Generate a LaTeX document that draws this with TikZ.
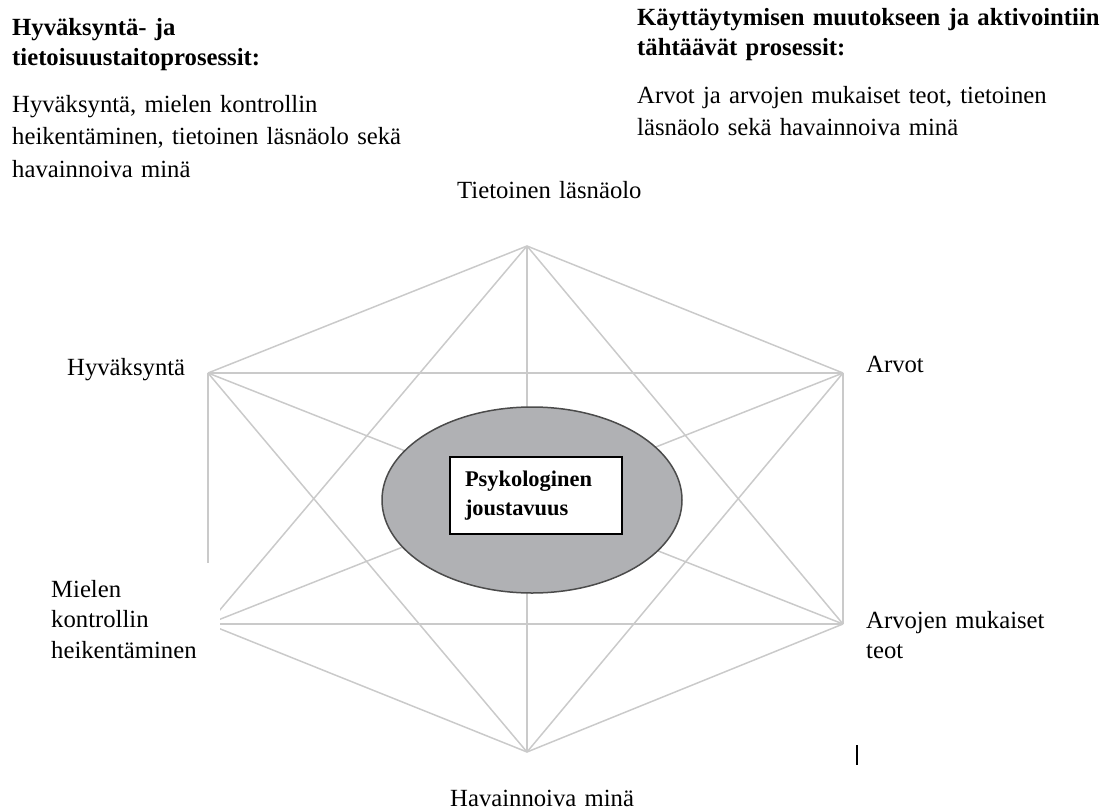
\documentclass[tikz,border=0pt]{standalone}
\usepackage{fontspec}
\setmainfont{Liberation Serif}
\usetikzlibrary{shapes.geometric}
\definecolor{edgegray}{RGB}{202,202,202}
\definecolor{ellgray}{RGB}{176,177,180}
\definecolor{ellborder}{RGB}{75,75,75}
\newcommand\fsbody{\fontsize{24.7}{32.5}\selectfont}
\newcommand\fshead{\fontsize{24.7}{30}\selectfont}
\newcommand\fslab{\fontsize{24.7}{30.5}\selectfont}
\newcommand\fsbox{\fontsize{22.4}{29}\selectfont}
\begin{document}
\begin{tikzpicture}[x=1pt,y=-1pt,
  edge/.style={draw=edgegray, line width=1.5pt},
  txt/.style={anchor=base west, inner sep=0pt, align=left, text width=#1},
  txt/.default=300pt]
\useasboundingbox (0,0) rectangle (1100,811);

% vertices
\coordinate (T)  at (527,246);
\coordinate (UL) at (208,373);
\coordinate (UR) at (843,373);
\coordinate (LL) at (208,624);
\coordinate (LR) at (843,624);
\coordinate (B)  at (527,752);

% complete graph
\draw[edge] (T) -- (UL);
\draw[edge] (T) -- (UR);
\draw[edge] (T) -- (LL);
\draw[edge] (T) -- (LR);
\draw[edge] (T) -- (B);
\draw[edge] (UL) -- (UR);
\draw[edge] (UL) -- (LL);
\draw[edge] (UL) -- (LR);
\draw[edge] (UL) -- (B);
\draw[edge] (UR) -- (LL);
\draw[edge] (UR) -- (LR);
\draw[edge] (UR) -- (B);
\draw[edge] (LL) -- (LR);
\draw[edge] (LL) -- (B);
\draw[edge] (LR) -- (B);

% centre
\node[ellipse, draw=ellborder, fill=ellgray, line width=1.5pt, inner sep=0pt,
      minimum width=300pt, minimum height=186pt] (ell) at (532,500) {};
\node[draw=black, fill=white, line width=1.2pt, minimum width=172pt,
      minimum height=77pt, text width=142pt, inner xsep=15pt, align=left,
      font=\fsbox\bfseries] (pj) at (536,495.5) {Psykologinen\\joustavuus};

% headers
\node[txt, font=\fshead] (hleft) at (12,35)
  {\bfseries Hyväksyntä- ja\\\bfseries tietoisuustaitoprosessit:};
\node[txt=470pt, font=\fshead] (hright) at (637,25)
  {\bfseries Käyttäytymisen muutokseen ja aktivointiin\\{\bfseries tähtäävät prosessit}:};
\node[txt=420pt, font=\fsbody] (bleft) at (12,112)
  {Hyväksyntä, mielen kontrollin\\heikentäminen, tietoinen läsnäolo sekä\\havainnoiva minä};
\node[txt=450pt, font=\fsbody] (bright) at (637,103)
  {Arvot ja arvojen mukaiset teot, tietoinen\\läsnäolo sekä havainnoiva minä};

% vertex labels
\node[txt=250pt, font=\fsbody] (lT) at (457,198) {Tietoinen läsnäolo};
\node[txt=250pt, font=\fsbody] (lB) at (450,806) {Havainnoiva minä};
\node[txt=150pt, font=\fsbody] (lUL) at (67,375) {Hyväksyntä};
\node[txt=150pt, font=\fsbody] (lUR) at (866,372) {Arvot};
\node[txt=230pt, font=\fslab] (lLR) at (866,628) {Arvojen mukaiset\\teot};
\node[anchor=base west, fill=white, inner xsep=11pt, inner ysep=17pt,
      text width=158pt, align=left, font=\fslab] (lLL) at (40,597)
  {Mielen\\kontrollin\\heikentäminen};

% cursor mark
\draw[line width=1.5pt] (857,745) -- (857,765);
\end{tikzpicture}
\end{document}
